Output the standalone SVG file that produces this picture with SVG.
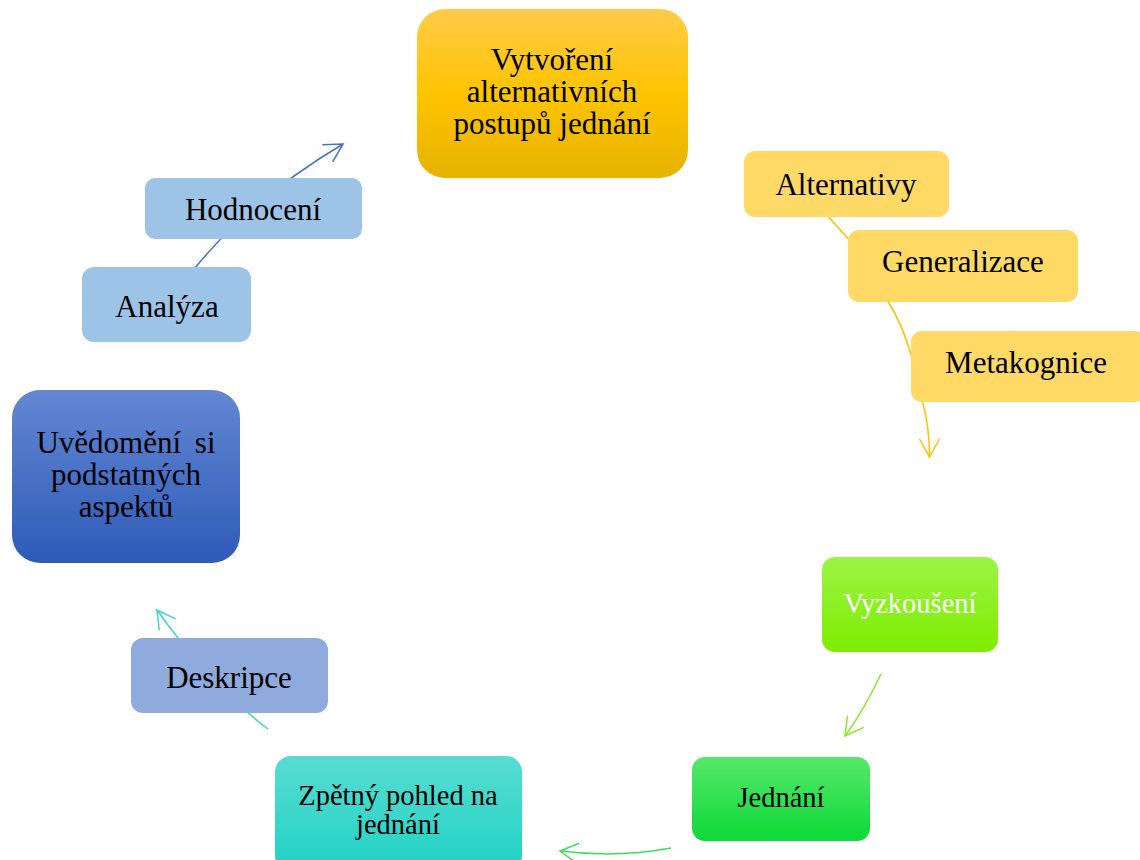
<svg xmlns="http://www.w3.org/2000/svg" width="1140" height="860" viewBox="0 0 1140 860">
<style>
text{font-family:"Liberation Serif","Times New Roman",serif;text-anchor:middle;fill:#000}
.t31{font-size:31px}
.t28{font-size:28.5px}
.c{fill:none;stroke-width:1.5}
</style>
<defs>
<linearGradient id="gTop" x1="0" y1="0" x2="0" y2="1"><stop offset="0" stop-color="#FFCB4A"/><stop offset="0.5" stop-color="#FFC400"/><stop offset="1" stop-color="#E6B300"/></linearGradient>
<linearGradient id="gBlue" x1="0" y1="0" x2="0" y2="1"><stop offset="0" stop-color="#6387D2"/><stop offset="1" stop-color="#2D5BB8"/></linearGradient>
<linearGradient id="gLime" x1="0" y1="0" x2="0" y2="1"><stop offset="0" stop-color="#9CF444"/><stop offset="1" stop-color="#7EEC00"/></linearGradient>
<linearGradient id="gGreen" x1="0" y1="0" x2="0" y2="1"><stop offset="0" stop-color="#55E86A"/><stop offset="1" stop-color="#0DD937"/></linearGradient>
<linearGradient id="gTeal" x1="0" y1="0" x2="0" y2="1"><stop offset="0" stop-color="#58DCD0"/><stop offset="1" stop-color="#20D2C6"/></linearGradient>
<marker id="mBlue" markerUnits="userSpaceOnUse" markerWidth="30" markerHeight="30" refX="0" refY="0" viewBox="-20 -15 25 30" orient="auto" overflow="visible"><path d="M-18,-10 L0,0 L-18,10" fill="none" stroke="#4472C4" stroke-width="1.5"/></marker>
<marker id="mYellow" markerUnits="userSpaceOnUse" markerWidth="30" markerHeight="30" refX="0" refY="0" viewBox="-20 -15 25 30" orient="auto" overflow="visible"><path d="M-18,-10 L0,0 L-18,10" fill="none" stroke="#FFC000" stroke-width="1.5"/></marker>
<marker id="mLime" markerUnits="userSpaceOnUse" markerWidth="30" markerHeight="30" refX="0" refY="0" viewBox="-20 -15 25 30" orient="auto" overflow="visible"><path d="M-18,-10 L0,0 L-18,10" fill="none" stroke="#8CE82A" stroke-width="1.5"/></marker>
<marker id="mGreen" markerUnits="userSpaceOnUse" markerWidth="30" markerHeight="30" refX="0" refY="0" viewBox="-20 -15 25 30" orient="auto" overflow="visible"><path d="M-18,-10 L0,0 L-18,10" fill="none" stroke="#3CE058" stroke-width="1.5"/></marker>
<marker id="mTeal" markerUnits="userSpaceOnUse" markerWidth="30" markerHeight="30" refX="0" refY="0" viewBox="-20 -15 25 30" orient="auto" overflow="visible"><path d="M-18,-10 L0,0 L-18,10" fill="none" stroke="#3ED8C8" stroke-width="1.5"/></marker>
</defs>
<rect width="1140" height="860" fill="#fff"/>
<g id="connectors">
<path class="c" stroke="#4472C4" d="M195,268 Q251,199 343,144" marker-end="url(#mBlue)"/>
<path class="c" stroke="#FFC000" d="M826,214 L852,243"/>
<path class="c" stroke="#FFC000" d="M886,298 Q904,326 913,362"/>
<path class="c" stroke="#FFC000" d="M922,400 Q929.5,425 929.5,457" marker-end="url(#mYellow)"/>
<path class="c" stroke="#8CE82A" d="M881,674 Q864,710 845,736" marker-end="url(#mLime)"/>
<path class="c" stroke="#3CE058" d="M671,848 Q617,858 560,851" marker-end="url(#mGreen)"/>
<path class="c" stroke="#3ED8C8" d="M268,729 Q211,686 157,610" marker-end="url(#mTeal)"/>
</g>
<g id="n-vytvoreni">
<rect x="417" y="9" width="271" height="169" rx="28" fill="url(#gTop)"/>
<text class="t31" x="552" y="70">Vytvoření</text>
<text class="t31" x="552" y="102">alternativních</text>
<text class="t31" x="552" y="134">postupů jednání</text>
</g>
<g id="n-alternativy">
<rect x="744" y="151" width="205" height="66" rx="11" fill="#FFD966"/>
<text class="t31" x="846" y="195">Alternativy</text>
</g>
<g id="n-generalizace">
<rect x="848" y="230" width="230" height="72" rx="11" fill="#FFD966"/>
<text class="t31" x="963" y="272">Generalizace</text>
</g>
<g id="n-metakognice">
<rect x="911" y="331" width="235" height="71" rx="11" fill="#FFD966"/>
<text class="t31" x="1026" y="373">Metakognice</text>
</g>
<g id="n-vyzkouseni">
<rect x="822" y="557" width="176" height="95" rx="13" fill="url(#gLime)"/>
<text class="t28" x="910" y="613" style="fill:#fff">Vyzkoušení</text>
</g>
<g id="n-jednani">
<rect x="692" y="757" width="178" height="84" rx="13" fill="url(#gGreen)"/>
<text class="t28" x="781" y="807">Jednání</text>
</g>
<g id="n-zpetny">
<rect x="275" y="756" width="247" height="115" rx="16" fill="url(#gTeal)"/>
<text class="t28" x="398" y="805">Zpětný pohled na</text>
<text class="t28" x="398" y="834">jednání</text>
</g>
<g id="n-deskripce">
<rect x="131" y="638" width="197" height="75" rx="12" fill="#8FAADC"/>
<text class="t31" x="229" y="688">Deskripce</text>
</g>
<g id="n-uvedomeni">
<rect x="12" y="390" width="228" height="173" rx="28" fill="url(#gBlue)"/>
<text class="t31" x="126" y="453" word-spacing="6">Uvědomění si</text>
<text class="t31" x="126" y="485">podstatných</text>
<text class="t31" x="126" y="517">aspektů</text>
</g>
<g id="n-analyza">
<rect x="82" y="267" width="169" height="75" rx="12" fill="#9DC3E6"/>
<text class="t31" x="167" y="317">Analýza</text>
</g>
<g id="n-hodnoceni">
<rect x="145" y="178" width="217" height="61" rx="10" fill="#9DC3E6"/>
<text class="t31" x="253" y="220">Hodnocení</text>
</g>
</svg>
